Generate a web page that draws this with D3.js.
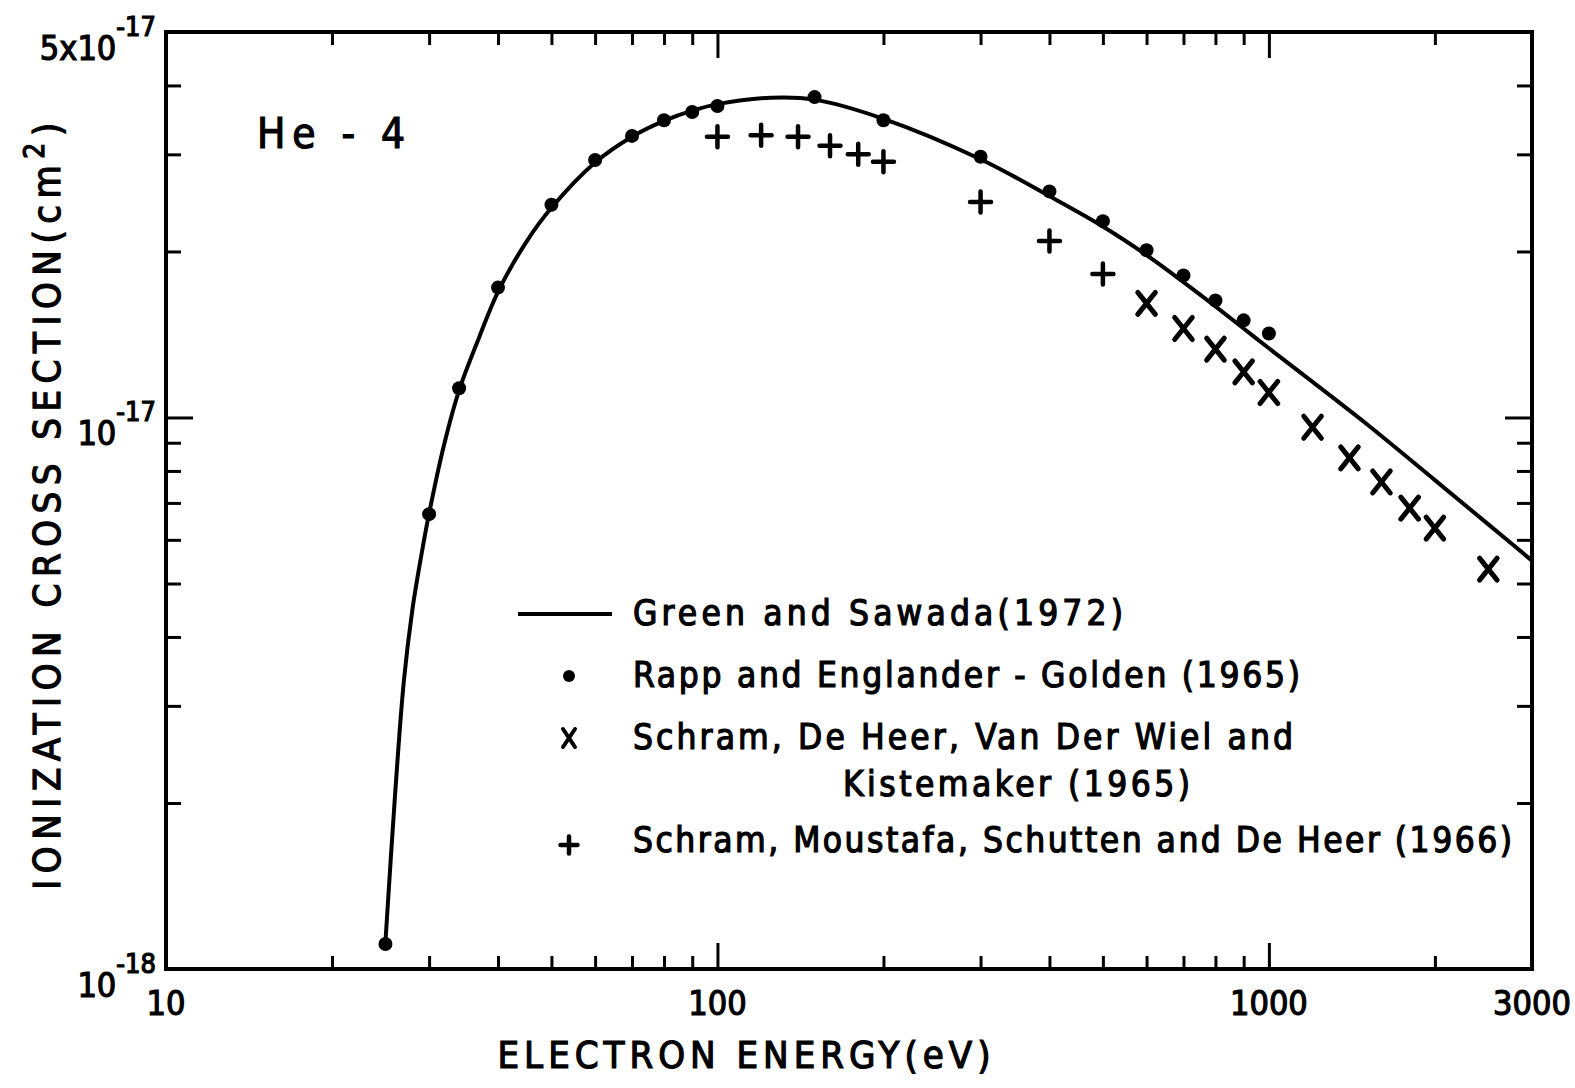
<!DOCTYPE html>
<html>
<head>
<meta charset="utf-8">
<script src="https://cdn.jsdelivr.net/npm/d3@7"></script>
<style>
body { margin: 0; background: #fff; }
svg { display: block; }
text { font-family: "DejaVu Sans Condensed", "DejaVu Sans", sans-serif; font-stretch: condensed; fill: #000; stroke: #000; stroke-width: 1.2px; }
</style>
</head>
<body>
<div id="display"></div>
<script>
// cross sections in units of 1e-18 cm^2, energies in eV
var greenE     = [25, 26, 27, 28, 29, 30, 32, 34, 37, 40, 45, 50, 60, 70, 80, 90, 100, 125, 150, 200, 300, 400, 500, 600, 700, 800, 900, 1000, 1200, 1500, 2000, 2500, 3000];
var greenSigma = [1.12, 2.04, 3.33, 4.51, 5.58, 6.7, 9.0, 11.2, 14.0, 16.9, 20.8, 24.0, 29.0, 32.3, 34.5, 36.0, 37.0, 38.0, 37.7, 34.8, 29.4, 25.2, 22.2, 19.7, 17.6, 15.9, 14.5, 13.35, 11.6, 9.75, 7.7, 6.4, 5.5];

var rappE     = [25, 30, 34, 40, 50, 60, 70, 80, 90, 100, 150, 200, 300, 400, 500, 600, 700, 800, 900, 1000];
var rappSigma = [1.11, 6.68, 11.3, 17.2, 24.3, 29.3, 32.4, 34.6, 35.8, 36.7, 38.1, 34.6, 29.7, 25.7, 22.7, 20.1, 18.1, 16.3, 15.0, 14.2];

var schramE     = [600, 700, 800, 900, 1000, 1200, 1400, 1600, 1800, 2000, 2500];
var schramSigma = [16.1, 14.5, 13.3, 12.1, 11.1, 9.6, 8.45, 7.64, 6.85, 6.3, 5.31];

var moustafaE     = [100, 120, 140, 160, 180, 200, 300, 400, 500];
var moustafaSigma = [32.3, 32.5, 32.3, 31.1, 30.0, 29.1, 24.6, 20.9, 18.2];

var xLabelValues = [10, 100, 1000, 3000];
var xLabels      = ["10", "100", "1000", "3000"];
var xMajorTicks  = [100, 1000];
var xMinorTicks  = [20, 30, 40, 50, 60, 70, 80, 90, 200, 300, 400, 500, 600, 700, 800, 900, 2000];

var yLabelValues = [1, 10, 50];
var yLabelBase   = ["10", "10", "5x10"];
var yLabelExp    = ["-18", "-17", "-17"];
var yMajorTicks  = [10];
var yMinorTicks  = [2, 3, 4, 5, 6, 7, 8, 9, 20, 30, 40];

var legendNames = ["Green  and  Sawada(1972)",
                   "Rapp  and  Englander - Golden (1965)",
                   "Schram, De Heer, Van Der Wiel  and",
                   "Kistemaker  (1965)",
                   "Schram, Moustafa, Schutten  and  De Heer (1966)"];

var margin = {left: 166, right: 43, top: 32, bottom: 119};
var width = 1575, height = 1088;

var x = d3.scaleLog()
    .domain([10, 3000])
    .range([margin.left, width - margin.right]);

var y = d3.scaleLog()
    .domain([1, 50])
    .range([height - margin.bottom, margin.top]);

var svg = d3.select("#display")
    .append("svg")
    .attr("width", width)
    .attr("height", height);

// ticks, all pointing inward
function ticks(axis, vals, size, tx) {
  var g = svg.append("g")
      .attr("transform", tx)
      .call(axis.tickValues(vals).tickSize(size).tickFormat(""));
  g.select(".domain").remove();
  g.selectAll("line").attr("stroke", "#000").attr("stroke-width", 3);
}
var bottomY = height - margin.bottom, rightX = width - margin.right;
ticks(d3.axisBottom(x), xMinorTicks, -13, "translate(0," + bottomY + ")");
ticks(d3.axisBottom(x), xMajorTicks, -26, "translate(0," + bottomY + ")");
ticks(d3.axisTop(x), xMinorTicks, -13, "translate(0," + margin.top + ")");
ticks(d3.axisTop(x), xMajorTicks, -26, "translate(0," + margin.top + ")");
ticks(d3.axisLeft(y), yMinorTicks, -15, "translate(" + margin.left + ",0)");
ticks(d3.axisLeft(y), yMajorTicks, -27, "translate(" + margin.left + ",0)");
ticks(d3.axisRight(y), yMinorTicks, -15, "translate(" + rightX + ",0)");
ticks(d3.axisRight(y), yMajorTicks, -27, "translate(" + rightX + ",0)");

svg.append("rect")
    .attr("x", margin.left)
    .attr("y", margin.top)
    .attr("width", rightX - margin.left)
    .attr("height", bottomY - margin.top)
    .attr("fill", "none")
    .attr("stroke", "#000")
    .attr("stroke-width", 4);

// x tick labels
svg.append("g")
    .selectAll("text")
    .data(xLabelValues)
    .join("text")
      .attr("x", d => x(d))
      .attr("y", bottomY + 46)
      .attr("text-anchor", "middle")
      .style("font-size", "34px")
      .text((d, i) => xLabels[i]);

// y tick labels with exponents
var yl = svg.append("g")
    .selectAll("text")
    .data(yLabelValues)
    .join("text")
      .attr("x", 156)
      .attr("y", d => y(d) + 28)
      .attr("text-anchor", "end")
      .style("font-size", "34px");
yl.append("tspan").text((d, i) => yLabelBase[i]);
yl.append("tspan")
    .attr("dy", -24)
    .style("font-size", "27px")
    .text((d, i) => yLabelExp[i]);

// axis titles
svg.append("text")
    .attr("x", 744)
    .attr("y", 1068)
    .attr("text-anchor", "middle")
    .attr("textLength", 493)
    .attr("lengthAdjust", "spacing")
    .style("font-size", "38px")
    .text("ELECTRON ENERGY(eV)");

var yt = svg.append("text")
    .attr("transform", "translate(60,503) rotate(-90)")
    .attr("text-anchor", "middle")
    .style("font-size", "38px")
    .style("letter-spacing", "6.5px");
yt.append("tspan").text("IONIZATION CROSS SECTION(cm");
yt.append("tspan").attr("dy", -16).style("font-size", "28px").text("2");
yt.append("tspan").attr("dy", 16).text(")");

svg.append("text")
    .attr("x", 257)
    .attr("y", 148)
    .style("font-size", "42px")
    .attr("textLength", 148)
    .attr("lengthAdjust", "spacing")
    .text("He - 4");

// theory curve
svg.append("clipPath").attr("id", "plot")
  .append("rect")
    .attr("x", margin.left).attr("y", margin.top)
    .attr("width", rightX - margin.left).attr("height", bottomY - margin.top);

var line = d3.line()
    .x(d => x(d[0]))
    .y(d => y(d[1]))
    .curve(d3.curveCatmullRom.alpha(0.5));

svg.append("path")
    .datum(d3.zip(greenE, greenSigma))
    .attr("clip-path", "url(#plot)")
    .attr("fill", "none")
    .attr("stroke", "#000")
    .attr("stroke-width", 4)
    .attr("d", line);

function crossPath(s) {
  return "M" + (-s * 0.8) + "," + (-s) + "L" + (s * 0.8) + "," + s + "M" + (-s * 0.8) + "," + s + "L" + (s * 0.8) + "," + (-s);
}
function plusPath(s) {
  return "M" + (-s) + ",0L" + s + ",0M0," + (-s) + "L0," + s;
}

// Rapp and Englander-Golden
svg.append("g")
    .selectAll("circle")
    .data(d3.zip(rappE, rappSigma))
    .join("circle")
      .attr("cx", d => x(d[0]))
      .attr("cy", d => y(d[1]))
      .attr("r", 7)
      .attr("fill", "#000");

// Schram et al. 1965
svg.append("g")
    .selectAll("path")
    .data(d3.zip(schramE, schramSigma))
    .join("path")
      .attr("transform", d => "translate(" + x(d[0]) + "," + y(d[1]) + ")")
      .attr("d", crossPath(11))
      .attr("stroke", "#000")
      .attr("stroke-width", 5)
      .attr("stroke-linecap", "round");

// Schram et al. 1966
svg.append("g")
    .selectAll("path")
    .data(d3.zip(moustafaE, moustafaSigma))
    .join("path")
      .attr("transform", d => "translate(" + x(d[0]) + "," + y(d[1]) + ")")
      .attr("d", plusPath(10.5))
      .attr("stroke", "#000")
      .attr("stroke-width", 4.5)
      .attr("stroke-linecap", "round");

// legend
var legend = svg.append("g");
legend.append("line")
    .attr("x1", 518).attr("x2", 612)
    .attr("y1", 614).attr("y2", 614)
    .attr("stroke", "#000").attr("stroke-width", 4);
legend.append("circle")
    .attr("cx", 569).attr("cy", 676).attr("r", 6).attr("fill", "#000");
legend.append("path")
    .attr("transform", "translate(569,738)")
    .attr("d", "M-6,-9L6,9M-6,9L6,-9")
    .attr("stroke", "#000").attr("stroke-width", 4).attr("stroke-linecap", "round");
legend.append("path")
    .attr("transform", "translate(569,845)")
    .attr("d", plusPath(8.5))
    .attr("stroke", "#000").attr("stroke-width", 4.5).attr("stroke-linecap", "round");

var legendX = [633, 633, 633, 843, 633];
var legendY = [625, 687, 749, 796, 852];
var legendW = [490, 667, 660, 347, 879];
legend.selectAll("text")
    .data(legendNames)
    .join("text")
      .attr("x", (d, i) => legendX[i])
      .attr("y", (d, i) => legendY[i])
      .attr("textLength", (d, i) => legendW[i])
      .attr("lengthAdjust", "spacing")
      .style("font-size", "35px")
      .text(d => d);
</script>
</body>
</html>
